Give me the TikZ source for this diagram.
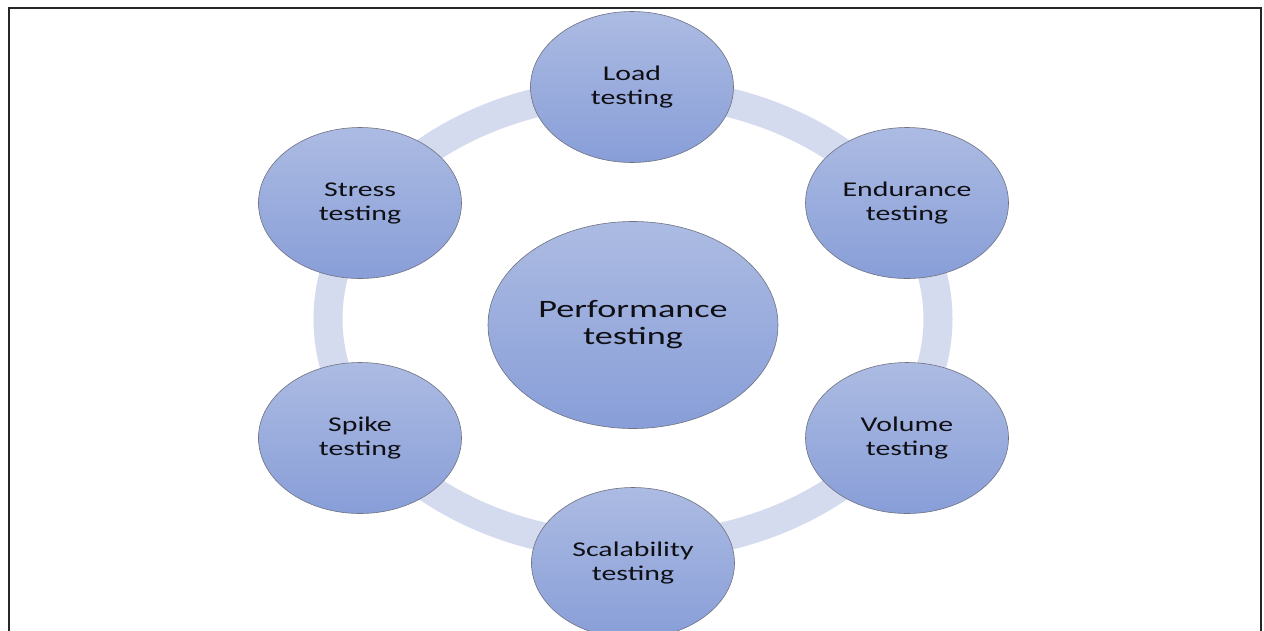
\documentclass[tikz,border=0pt]{standalone}
\usepackage{fontspec}
\usetikzlibrary{shapes.geometric}
\newfontfamily\lblfont[FakeStretch=1.42]{Carlito}
\newfontfamily\hubfont[FakeStretch=1.45]{Carlito}
\definecolor{ringc}{RGB}{213,219,239}
\definecolor{topc}{RGB}{172,187,226}
\definecolor{botc}{RGB}{136,158,216}
\definecolor{edgec}{RGB}{110,114,130}
\definecolor{txtc}{RGB}{15,15,20}
\tikzset{
  bubble/.style={ellipse, draw=edgec, line width=0.6pt, top color=topc, bottom color=botc,
    inner sep=0pt, align=center, text=txtc,
    font=\lblfont\fontsize{21}{24}\selectfont,
    minimum width=203pt, minimum height=151pt},
  hub/.style={bubble, minimum width=290pt, minimum height=207pt,
    font=\hubfont\fontsize{25}{27}\selectfont},
  ringstyle/.style={ellipse, draw=ringc, line width=29pt, inner sep=0pt,
    minimum width=610pt, minimum height=456pt},
  frame/.style={line width=2pt, draw=black!85}
}
\begin{document}
\begin{tikzpicture}[x=1pt,y=-1pt]
\useasboundingbox (0,0) rectangle (1264,630);
\clip (0,0) rectangle (1264,630);
\fill[white] (0,0) rectangle (1264,630);
\coordinate (fbl) at (8.5,660);
\coordinate (ftl) at (8.5,8);
\coordinate (ftr) at (1261,8);
\coordinate (fbr) at (1261,660);
\draw[frame] (fbl) -- (ftl) -- (ftr) -- (fbr);
\node[ringstyle] (ring) at (633,319) {};
\node[bubble] (load) at (632,87) {Load\\testing};
\node[bubble] (endur) at (907,203) {Endurance\\testing};
\node[bubble] (volume) at (907,438) {Volume\\testing};
\node[bubble] (scal) at (633,563) {Scalability\\testing};
\node[bubble] (spike) at (360,438) {Spike\\testing};
\node[bubble] (stress) at (360,203) {Stress\\testing};
\node[hub] (perf) at (633,325) {Performance\\testing};
\end{tikzpicture}
\end{document}
